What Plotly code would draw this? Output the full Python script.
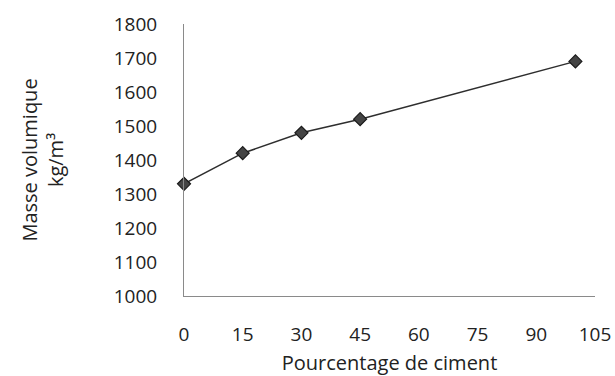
import plotly.graph_objects as go

# Bulk density vs cement percentage
ciment_pct = [0, 15, 30, 45, 100]
masse_volumique = [1330, 1420, 1480, 1520, 1690]

x_ticks = [0, 15, 30, 45, 60, 75, 90, 105]
y_ticks = [1000, 1100, 1200, 1300, 1400, 1500, 1600, 1700, 1800]

font_family = "Open Sans, DejaVu Sans, sans-serif"
ink = "#222222"

fig = go.Figure(
    go.Scatter(
        x=ciment_pct,
        y=masse_volumique,
        mode="lines+markers",
        line=dict(color="#2e2e2e", width=1.5),
        marker=dict(symbol="diamond", size=10, color="#444444",
                    line=dict(color="#1a1a1a", width=1.2)),
        cliponaxis=False,
        showlegend=False,
    )
)

fig.update_layout(
    width=615,
    height=376,
    margin=dict(l=184, r=20, t=24, b=80),
    paper_bgcolor="white",
    plot_bgcolor="white",
    font=dict(family=font_family, size=19, color=ink),
)

fig.update_xaxes(
    range=[0, 105],
    tickvals=x_ticks,
    ticktext=[str(v) for v in x_ticks],
    showgrid=False,
    zeroline=False,
    showline=True,
    linecolor="#8a8a8a",
    linewidth=1,
    ticks="",
    ticklabelstandoff=21,
    tickfont=dict(size=19, color=ink),
    automargin=False,
    title=dict(text="Pourcentage de ciment", font=dict(size=20, color=ink), standoff=12),
)

fig.update_yaxes(
    range=[1000, 1800],
    tickvals=y_ticks,
    ticktext=[str(v) for v in y_ticks],
    showgrid=False,
    zeroline=False,
    showline=True,
    linecolor="#8a8a8a",
    linewidth=1,
    ticks="",
    ticklabelstandoff=22,
    tickfont=dict(size=19, color=ink),
    automargin=False,
    title=dict(text="Masse volumique<br>kg/m³", font=dict(size=20, color=ink), standoff=44),
)

fig.write_html("out.html")
